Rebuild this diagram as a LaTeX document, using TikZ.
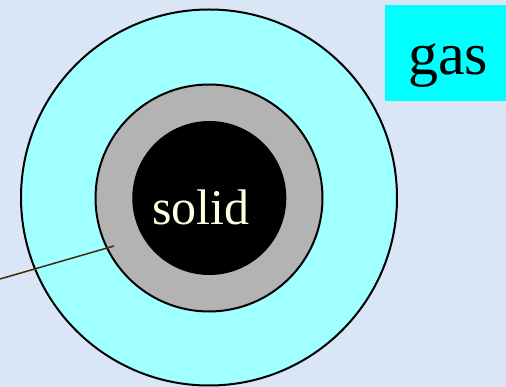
\documentclass[tikz,border=0pt]{standalone}
\usepackage{fontspec}
\setmainfont{Liberation Serif}
\newfontfamily\timesfont{Liberation Serif}
\definecolor{bgblue}{RGB}{218,230,246}
\definecolor{lightcyan}{RGB}{160,255,255}
\definecolor{purecyan}{RGB}{0,255,255}
\definecolor{ringgray}{RGB}{179,179,179}
\definecolor{ivory}{RGB}{255,255,225}
\definecolor{linebrown}{RGB}{70,40,10}
\tikzset{
  disc/.style={circle, draw=black, line width=2pt, inner sep=0pt},
  lbl/.style={font=\timesfont\fontsize{#1}{#1}\selectfont, inner sep=0pt, anchor=base}
}
\begin{document}
\begin{tikzpicture}[x=1pt,y=-1pt]
\fill[bgblue] (0,0) rectangle (506,387);
\useasboundingbox (0,0) rectangle (506,387);
\node[disc, fill=lightcyan, minimum size=376pt] (outer) at (209,197.5) {};
\node[disc, fill=ringgray, minimum size=227pt] (ring) at (209,198) {};
\node[circle, fill=black, inner sep=0pt, minimum size=154pt] (core) at (209.3,198) {};
\node[lbl=50, text=ivory] (solidtxt) at (201,225) {solid};
\node[fill=purecyan, minimum width=125pt, minimum height=96pt, inner sep=0pt, anchor=north west] (gasbox) at (385,5) {};
\node[lbl=60] (gastxt) at (448,75) {gas};
\coordinate (lineend) at (0,279);
\coordinate (ringpt) at (114,246);
\draw[linebrown, line width=1.5pt] (lineend) -- (ringpt);
\end{tikzpicture}
\end{document}
